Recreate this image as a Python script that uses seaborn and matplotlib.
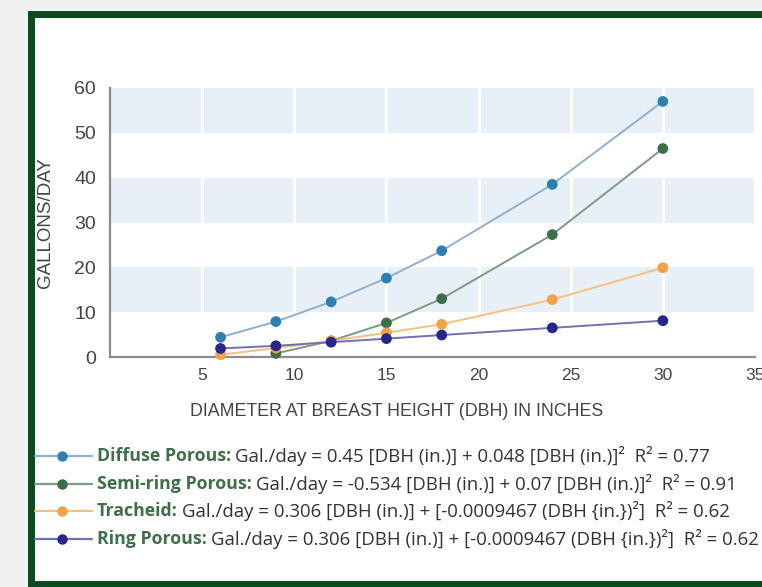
import numpy as np
import pandas as pd
import matplotlib
matplotlib.use("Agg")
import matplotlib.pyplot as plt
from matplotlib.lines import Line2D
from matplotlib.patches import Rectangle
import seaborn as sns

# DBH (inches) at which water use was measured
dbh = [6, 9, 12, 15, 18, 24, 30]
dbh_semi = [9, 12, 15, 18, 24, 30]

# Gallons per day for each wood type
diffuse = [4.4, 7.9, 12.3, 17.6, 23.7, 38.5, 57.0]
semi_ring = [0.8, 3.6, 7.6, 13.0, 27.3, 46.5]
tracheid = [0.5, 2.0, 3.6, 5.4, 7.3, 12.8, 19.9]
ring = [1.9, 2.5, 3.3, 4.1, 4.9, 6.5, 8.1]

series_names = ["Diffuse Porous", "Semi-ring Porous", "Tracheid", "Ring Porous"]
equations = [
    "Gal./day = 0.45 [DBH (in.)] + 0.048 [DBH (in.)]\u00b2  R\u00b2 = 0.77",
    "Gal./day = -0.534 [DBH (in.)] + 0.07 [DBH (in.)]\u00b2  R\u00b2 = 0.91",
    "Gal./day = 0.306 [DBH (in.)] + [-0.0009467 (DBH {in.})\u00b2]  R\u00b2 = 0.62",
    "Gal./day = 0.306 [DBH (in.)] + [-0.0009467 (DBH {in.})\u00b2]  R\u00b2 = 0.62",
]
x_ticks = [5, 10, 15, 20, 25, 30, 35]
y_ticks = [0, 10, 20, 30, 40, 50, 60]

line_colors = ["#8fb0cf", "#7b9c84", "#f6c07e", "#7371b3"]
marker_colors = ["#2f80b2", "#3b6f49", "#f1a347", "#26268c"]

df = pd.concat([
    pd.DataFrame({"dbh": dbh, "gal": diffuse, "type": series_names[0]}),
    pd.DataFrame({"dbh": dbh_semi, "gal": semi_ring, "type": series_names[1]}),
    pd.DataFrame({"dbh": dbh, "gal": tracheid, "type": series_names[2]}),
    pd.DataFrame({"dbh": dbh, "gal": ring, "type": series_names[3]}),
], ignore_index=True)

sns.set_style("white")
plt.rcParams["font.family"] = ["Liberation Sans", "DejaVu Sans"]

W, H = 762, 587
fig = plt.figure(figsize=(W / 100, H / 100), dpi=100)
fig.patch.set_facecolor("#f0f0f0")

# dark green frame around the figure content
frame = Rectangle((30.5 / W, 1 - 583.5 / H), 1.1, (583.5 - 13.5) / H,
                  transform=fig.transFigure, facecolor="white",
                  edgecolor="#0b4a1f", linewidth=5.0, zorder=-5)
fig.patches.append(frame)

ax = fig.add_axes([110 / W, 1 - 357 / H, 645 / W, 269 / H])
ax.patch.set_alpha(0)

# alternating horizontal bands
for lo in (10, 30, 50):
    ax.axhspan(lo, lo + 10, color="#e8f0f7", zorder=0.2, lw=0)
ax.set_axisbelow(True)
ax.grid(axis="x", color="white", lw=2.2, zorder=0.5)
ax.grid(axis="y", visible=False)

sns.lineplot(data=df, x="dbh", y="gal", hue="type", hue_order=series_names,
             palette=line_colors, lw=1.4, legend=False, ax=ax, zorder=3,
             clip_on=False)
sns.scatterplot(data=df, x="dbh", y="gal", hue="type", hue_order=series_names,
                palette=marker_colors, s=60, edgecolor="none", legend=False,
                ax=ax, zorder=4, clip_on=False)

ax.set_xlim(0, 35)
ax.set_ylim(0, 60)
ax.set_xticks(x_ticks)
ax.set_yticks(y_ticks)
ax.tick_params(axis="both", length=0, labelcolor="#444444")
ax.tick_params(axis="x", pad=8, labelsize=12.5)
ax.tick_params(axis="y", pad=10, labelsize=14)

for side in ("top", "right"):
    ax.spines[side].set_visible(False)
for side in ("left", "bottom"):
    ax.spines[side].set_color("#8c8c8c")
    ax.spines[side].set_linewidth(1.6)

ax.set_xlabel("DIAMETER AT BREAST HEIGHT (DBH) IN INCHES", fontsize=12.8,
              color="#444444")
ax.xaxis.set_label_coords((397 - 110) / 645, -0.172)
ax.set_ylabel("GALLONS/DAY", fontsize=13.5, color="#444444")
ax.yaxis.set_label_coords(-(110 - 54) / 645, 0.5)

# legend rows with bold coloured names followed by the fitted equation
fig.canvas.draw()
renderer = fig.canvas.get_renderer()
row_y = [456, 484, 511, 539]
legend_font = ["Open Sans", "DejaVu Sans"]
for name, eq, lc, mc, yy in zip(series_names, equations, line_colors,
                                marker_colors, row_y):
    yf = 1 - yy / H
    fig.add_artist(Line2D([35 / W, 92 / W], [yf, yf], transform=fig.transFigure,
                          color=lc, lw=1.6))
    fig.add_artist(Line2D([62 / W], [yf], transform=fig.transFigure,
                          marker="o", markersize=6.5, color=mc, lw=0))
    t = fig.text(97 / W, yf, name + ":", fontsize=12.8, fontweight="bold",
                 color="#3f6e4a", va="center", ha="left", family=legend_font)
    bb = t.get_window_extent(renderer=renderer)
    fig.text((bb.x1 + 4) / W, yf, eq, fontsize=13.4, color="#333333",
             va="center", ha="left", family=legend_font)

fig.savefig("out.png", dpi=100, facecolor=fig.get_facecolor())
